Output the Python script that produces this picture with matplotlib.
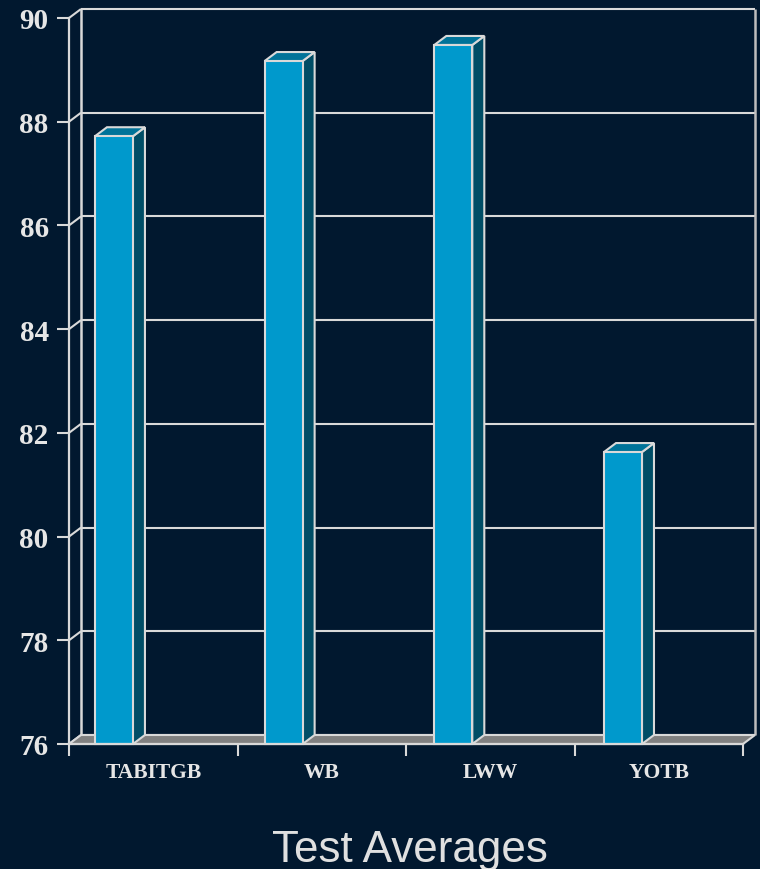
import matplotlib
matplotlib.use("Agg")
import matplotlib.pyplot as plt
from matplotlib.patches import Polygon
import numpy as np

# data
categories = ["TABITGB", "WB", "LWW", "YOTB"]
averages = [87.72, 89.17, 89.48, 81.63]
y_ticks = [76, 78, 80, 82, 84, 86, 88, 90]

bg = "#01182f"
line_c = "#d9d9d9"
front_c = "#0099cc"
top_c = "#007399"
side_c = "#004d66"
floor_c = "#808080"

fig = plt.figure(figsize=(7.6, 8.7), dpi=100, facecolor=bg)
ax = fig.add_axes([69/760, 125/870, 674/760, 726/870])
ax.set_facecolor("none")
ax.set_xlim(0, len(categories))
ax.set_ylim(y_ticks[0], y_ticks[-1])

# depth of the pseudo 3d box, 12 px right and 9 px up, in data units
p0 = ax.transData.transform((0, y_ticks[0]))
ddx, ddy = ax.transData.inverted().transform(p0 + np.array([12, 9])) - np.array([0, y_ticks[0]])

ymin, ymax = y_ticks[0], y_ticks[-1]
n = len(categories)
kw = dict(clip_on=False, solid_capstyle="butt")

# back wall grid + frame
for v in y_ticks:
    ax.plot([ddx, n + ddx], [v + ddy, v + ddy], color=line_c, lw=1.5, zorder=1, **kw)
    ax.plot([0, ddx], [v, v + ddy], color=line_c, lw=1.5, zorder=1, **kw)
ax.plot([ddx, ddx], [ymin + ddy, ymax + ddy], color=line_c, lw=1.8, zorder=1, **kw)
ax.plot([n + ddx, n + ddx], [ymin + ddy, ymax + ddy], color="#bdbdbd", lw=1.8, zorder=1, **kw)

# floor
ax.add_patch(Polygon([(0, ymin), (n, ymin), (n + ddx, ymin + ddy), (ddx, ymin + ddy)],
                     closed=True, fc=floor_c, ec=line_c, lw=1.5, zorder=2, clip_on=False))

# bars (slot slightly wider than category step, as in the original)
bw, off, step = 0.2255, 0.154, 1.007
for i, val in enumerate(averages):
    x0 = i * step + off
    x1 = x0 + bw
    ax.add_patch(Polygon([(x1, ymin), (x1 + ddx, ymin + ddy), (x1 + ddx, val + ddy), (x1, val)],
                         closed=True, fc=side_c, ec=line_c, lw=1.5, zorder=3, clip_on=False))
    ax.add_patch(Polygon([(x0, val), (x1, val), (x1 + ddx, val + ddy), (x0 + ddx, val + ddy)],
                         closed=True, fc=top_c, ec=line_c, lw=1.5, zorder=3, clip_on=False))
    ax.add_patch(Polygon([(x0, ymin), (x1, ymin), (x1, val), (x0, val)],
                         closed=True, fc=front_c, ec=line_c, lw=1.5, zorder=4, clip_on=False))

# front axes
for s in ["top", "right"]:
    ax.spines[s].set_visible(False)
for s in ["left", "bottom"]:
    ax.spines[s].set_color(line_c)
    ax.spines[s].set_linewidth(1.6)
    ax.spines[s].set_zorder(5)

ax.set_yticks(y_ticks)
ax.set_yticklabels([str(v) for v in y_ticks])
ax.set_xticks(np.arange(n + 1))
ax.set_xticklabels([])
ax.set_xticks(np.arange(n) + 0.5, minor=True)
ax.set_xticklabels(categories, minor=True)
ax.tick_params(axis="both", which="major", color=line_c, width=1.5, length=8.6)
ax.tick_params(axis="x", which="minor", length=0, pad=13)
ax.tick_params(axis="y", pad=6)
for lab in ax.get_yticklabels():
    lab.set_fontfamily("Liberation Serif")
    lab.set_fontweight("bold")
    lab.set_fontsize(21)
    lab.set_color("#e6e6e6")
for lab in ax.get_xticklabels(minor=True):
    lab.set_fontfamily("Liberation Serif")
    lab.set_fontweight("bold")
    lab.set_fontsize(15.5)
    lab.set_color("#e6e6e6")

fig.text(0.54, 8/870, "Test Averages", ha="center", va="baseline",
         fontfamily="Liberation Sans", fontsize=31.7, color="#e0e0e0")

fig.savefig("out.png", dpi=100, facecolor=bg)
